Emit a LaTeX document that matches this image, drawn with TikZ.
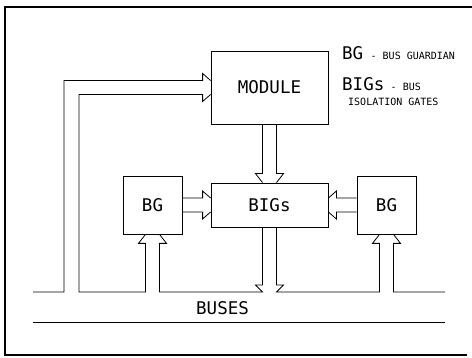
\documentclass[tikz,border=0pt]{standalone}
\usepackage{fontspec}
\setmainfont{DejaVu Sans Mono}
\usetikzlibrary{positioning,calc}
\newcommand{\plotbig}{\fontsize{17.5}{18}\selectfont}
\newcommand{\plotsmall}{\fontsize{10}{10}\selectfont}

\begin{document}
\begin{tikzpicture}[
    x=1pt, y=-1pt,
    box/.style={rectangle, draw, line width=0.8pt, inner sep=0pt, font=\plotbig},
    pipe/.style={line width=0.8pt, line join=miter},
    key/.style={anchor=base west, inner sep=0pt, font=\plotbig},
    keytxt/.style={anchor=base west, inner sep=0pt, font=\plotsmall}
]
\useasboundingbox (0,0) rectangle (472,358);
% frame
\draw[line width=1.5pt] (472,7) -- (5,7) -- (5,355) -- (467,355);

% blocks
\node[box, minimum width=117pt, minimum height=73pt] (module) at (269.5,87.5) {MODULE};
\node[box, minimum width=117pt, minimum height=44pt] (bigs) at (269.5,205) {BIGs};
\node[box, minimum width=59pt, minimum height=58pt] (bgl) at (152.5,205) {BG};
\node[box, minimum width=59pt, minimum height=58pt] (bgr) at (386.5,205) {BG};

% legend
\node[key] (keybg) at (342,60) {BG};
\node[keytxt] (keybgtxt) at ($(keybg.base east)+(7,0)$) {- BUS GUARDIAN};
\node[key] (keybigs) at (342,91) {BIGs};
\node[keytxt] (keybigstxt) at ($(keybigs.base east)+(6,0)$) {- BUS};
\node[keytxt] (keyiso) at (348,106) {ISOLATION GATES};

% buses
\coordinate (busW) at (33,292);
\coordinate (busE) at (445,292);
\coordinate (gndW) at (33,322);
\coordinate (gndE) at (445,322);
\coordinate (feedO) at (64,292);
\coordinate (feedI) at (79,292);
\node[key] (buses) at (196,315) {BUSES};

\coordinate (bglL) at ($(bgl.south)+(-7,0)$);
\coordinate (bglR) at ($(bgl.south)+(7,0)$);
\coordinate (bgrL) at ($(bgr.south)+(-7,0)$);
\coordinate (bgrR) at ($(bgr.south)+(7,0)$);
\coordinate (bigL) at ($(bigs.south)+(-7,0)$);
\coordinate (bigR) at ($(bigs.south)+(7,0)$);

% bus lines with the pipes into the blocks
\draw[pipe] (busW) -- (feedO) |- ($(module.west)+(-8,-7)$) -- ++(0,-7) -- ($(module.west)+(0,-7)$);
\draw[pipe] ($(module.west)+(0,7)$) -- ++(-8,7) -- ++(0,-7) -| (feedI) -- (bglL |- busW) -- ($(bglL)+(0,9)$) -- ++(-7,0) -- (bglL);
\draw[pipe] (bglR) -- ++(7,9) -- ++(-7,0) -- (bglR |- busW) -- (bigL |- busW) -- ++(-7,-7) -- ++(7,0) -- (bigL);
\draw[pipe] (bgrL) -- ++(-7,9) -- ++(7,0) -- (bgrL |- busW) -- (bigR |- busW) -- ++(7,-7) -- ++(-7,0) -- (bigR);
\draw[pipe] (bgrR) -- ++(7,9) -- ++(-7,0) -- (bgrR |- busW) -- (busE);
\draw[pipe] (gndW) -- (gndE);

% module to BIGs
\draw[pipe] ($(module.south)+(-7,0)$) -- ($(bigs.north)+(-7,-9)$) -- ++(-7,0) -- ($(bigs.north)+(-7,0)$);
\draw[pipe] ($(module.south)+(7,0)$) -- ($(bigs.north)+(7,-9)$) -- ++(7,0) -- ($(bigs.north)+(7,0)$);

% guardians to BIGs
\draw[pipe] ($(bgl.east)+(0,-7)$) -- ($(bigs.west)+(-8,-7)$) -- ++(0,-7) -- ($(bigs.west)+(0,-7)$);
\draw[pipe] ($(bgl.east)+(0,7)$) -- ($(bigs.west)+(-8,7)$) -- ++(0,7) -- ($(bigs.west)+(0,7)$);
\draw[pipe] ($(bgr.west)+(0,-7)$) -- ($(bigs.east)+(8,-7)$) -- ++(0,-7) -- ($(bigs.east)+(0,-7)$);
\draw[pipe] ($(bgr.west)+(0,7)$) -- ($(bigs.east)+(8,7)$) -- ++(0,7) -- ($(bigs.east)+(0,7)$);
\end{tikzpicture}
\end{document}
